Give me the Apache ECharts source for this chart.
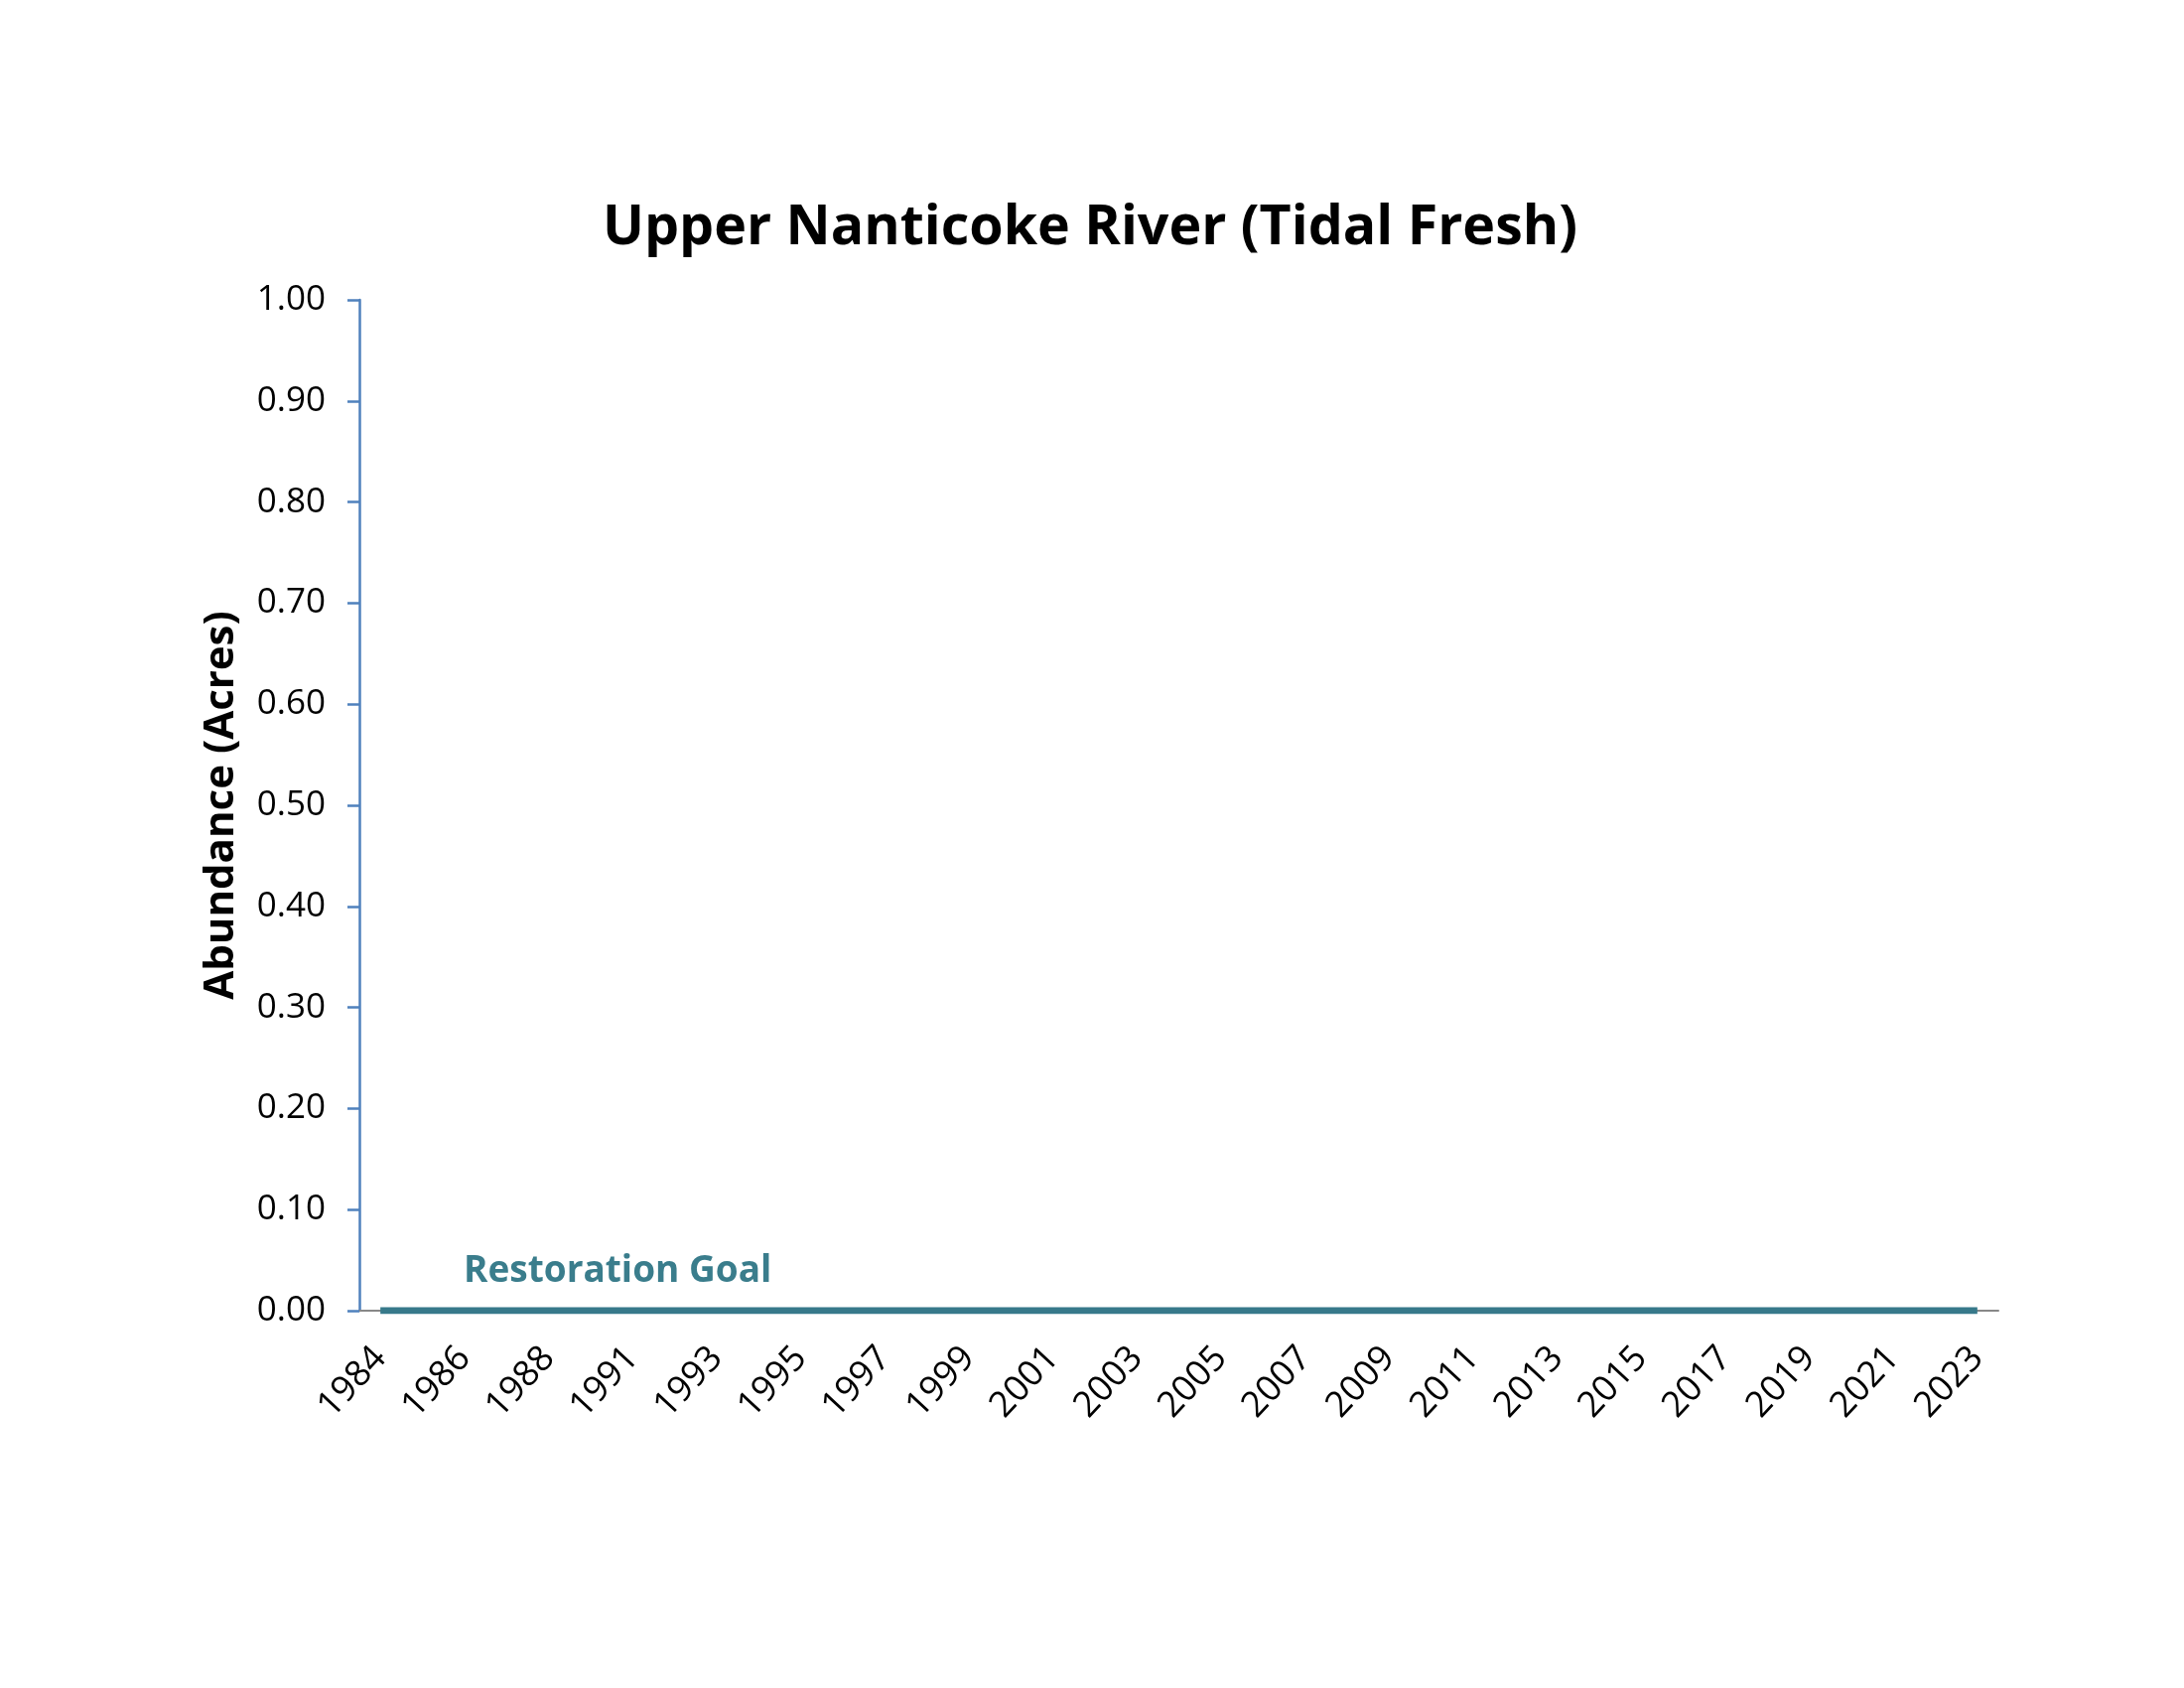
<!DOCTYPE html>
<html>
<head>
<meta charset="utf-8">
<script src="https://cdn.jsdelivr.net/npm/echarts@6/dist/echarts.min.js"></script>
<style>
html,body{margin:0;padding:0;background:#fff;}
#chart{width:2200px;height:1700px;}
</style>
</head>
<body>
<div id="chart"></div>
<script>
var years = ['1984','1985','1986','1987','1988','1989','1991','1992','1993','1994','1995','1996','1997','1998','1999','2000','2001','2002','2003','2004','2005','2006','2007','2008','2009','2010','2011','2012','2013','2014','2015','2016','2017','2018','2019','2020','2021','2022','2023'];
var restorationGoal = [0,0,0,0,0,0,0,0,0,0,0,0,0,0,0,0,0,0,0,0,0,0,0,0,0,0,0,0,0,0,0,0,0,0,0,0,0,0,0];
var yTicks = [0.0,0.1,0.2,0.3,0.4,0.5,0.6,0.7,0.8,0.9,1.0];

var FONT = 'Open Sans';
var chart = echarts.init(document.getElementById('chart'));
chart.setOption({
  backgroundColor: '#ffffff',
  animation: false,
  title: {
    text: 'Upper Nanticoke River (Tidal Fresh)',
    left: 1093, top: 197, textAlign: 'center',
    textStyle: {fontFamily: FONT, fontWeight: 'bold', fontSize: 55.5, color: '#000'}
  },
  grid: {left: 362, right: 187, top: 302, bottom: 380, containLabel: false},
  xAxis: {
    type: 'category',
    data: years,
    boundaryGap: true,
    axisLine: {lineStyle: {color: '#888888', width: 2}},
    axisTick: {show: false},
    axisLabel: {
      interval: 1, rotate: 47, margin: 42,
      fontFamily: FONT, fontSize: 36, color: '#000'
    },
    splitLine: {show: false}
  },
  yAxis: {
    type: 'value',
    min: yTicks[0], max: yTicks[yTicks.length-1], interval: 0.1,
    name: 'Abundance (Acres)',
    nameLocation: 'middle',
    nameGap: 118,
    nameTextStyle: {fontFamily: FONT, fontWeight: 'bold', fontSize: 42, color: '#000'},
    axisLine: {show: true, lineStyle: {color: '#4F81BD', width: 2.5}},
    axisTick: {show: true, length: 12, lineStyle: {color: '#4F81BD', width: 2.5}},
    axisLabel: {
      margin: 34, fontFamily: FONT, fontSize: 35, color: '#000',
      formatter: function(v){ return v.toFixed(2); }
    },
    splitLine: {show: false}
  },
  graphic: [{
    type: 'text',
    left: 467, top: 1262,
    style: {text: 'Restoration Goal', font: 'bold 37px "Open Sans"', fill: '#3A7D8C'}
  }],
  series: [{
    name: 'Restoration Goal',
    type: 'line',
    data: restorationGoal,
    symbol: 'none',
    lineStyle: {color: '#37798A', width: 7},
    z: 5
  }]
});
</script>
</body>
</html>
